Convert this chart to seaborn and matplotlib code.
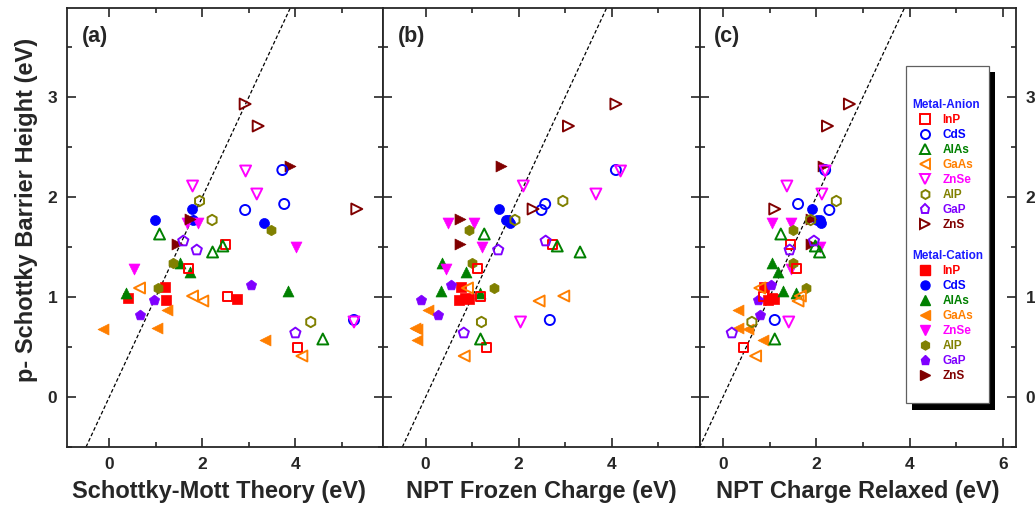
import numpy as np
import pandas as pd
import matplotlib
matplotlib.use("Agg")
import matplotlib.pyplot as plt
import seaborn as sns
from matplotlib.lines import Line2D
from matplotlib.patches import Rectangle
from matplotlib.ticker import MultipleLocator

# ---------------- data ----------------
materials = ["InP", "CdS", "AlAs", "GaAs", "ZnSe", "AlP", "GaP", "ZnS"]
colors = ["#ff0000", "#0000ff", "#008000", "#ff7f00", "#ff00ff", "#808000", "#7f00ff", "#800000"]
markers = ["s", "o", "^", "<", "v", "h", "p", ">"]

# p-Schottky barrier height (same in all panels)
y_anion = [
    [1.52, 1.28, 1.00, 0.49],
    [2.27, 1.87, 1.93, 0.77],
    [1.63, 1.45, 1.51, 0.58],
    [1.09, 1.01, 0.96, 0.41],
    [2.26, 2.11, 2.03, 0.75],
    [1.96, 1.77, 0.75],
    [1.56, 1.47, 0.64],
    [2.93, 2.71, 1.88],
]
y_cation = [
    [1.10, 0.97, 0.99, 0.98],
    [1.77, 1.88, 1.77, 1.74],
    [1.34, 1.25, 1.04, 1.06],
    [0.87, 0.68, 0.69, 0.57],
    [1.74, 1.74, 1.50, 1.28],
    [1.34, 1.09, 1.67],
    [0.97, 1.12, 0.82],
    [2.31, 1.78, 1.53],
]

# (a) Schottky-Mott theory
x_anion_a = [
    [2.50, 1.70, 2.55, 4.05],
    [3.72, 2.92, 3.76, 5.26],
    [1.08, 2.22, 2.44, 4.59],
    [0.65, 1.79, 2.01, 4.14],
    [2.93, 1.79, 3.17, 5.26],
    [1.94, 2.21, 4.33],
    [1.59, 1.88, 4.00],
    [2.92, 3.20, 5.32],
]
x_cation_a = [
    [1.20, 1.22, 0.40, 2.74],
    [0.98, 1.78, 1.81, 3.33],
    [1.52, 1.74, 0.36, 3.85],
    [1.23, -0.14, 1.02, 3.35],
    [1.66, 1.90, 4.02, 0.53],
    [1.38, 1.05, 3.47],
    [0.97, 3.05, 0.67],
    [3.89, 1.74, 1.45],
]

# (b) NPT frozen charge
x_anion_b = [
    [2.72, 1.12, 1.19, 1.30],
    [4.09, 2.49, 2.57, 2.67],
    [1.26, 3.32, 2.83, 1.18],
    [0.90, 2.97, 2.44, 0.83],
    [4.19, 2.10, 3.66, 2.04],
    [2.95, 1.92, 1.20],
    [2.58, 1.56, 0.82],
    [4.09, 3.07, 2.31],
]
x_cation_b = [
    [0.77, 0.72, 0.85, 0.93],
    [1.73, 1.58, 1.77, 1.81],
    [0.36, 0.87, 1.17, 0.33],
    [0.06, -0.18, -0.23, -0.19],
    [0.49, 1.05, 1.22, 0.44],
    [0.99, 1.47, 0.93],
    [-0.09, 0.54, 0.27],
    [1.61, 0.74, 0.74],
]

# (c) NPT charge relaxed
x_anion_c = [
    [1.45, 1.57, 0.86, 0.43],
    [2.19, 2.28, 1.61, 1.11],
    [1.24, 2.07, 1.98, 1.11],
    [0.79, 1.66, 1.61, 0.70],
    [2.19, 1.37, 2.12, 1.41],
    [2.43, 1.88, 0.62],
    [1.95, 1.43, 0.19],
    [2.71, 2.24, 1.11],
]
x_cation_c = [
    [0.89, 0.97, 1.05, 1.10],
    [2.02, 1.91, 2.08, 2.11],
    [1.05, 1.18, 1.57, 1.28],
    [0.32, 0.54, 0.32, 0.86],
    [1.06, 1.46, 2.09, 1.46],
    [1.50, 1.79, 1.50],
    [0.75, 1.04, 0.80],
    [2.14, 1.88, 1.89],
]

panel_tags = ["(a)", "(b)", "(c)"]
x_labels = ["Schottky-Mott Theory (eV)", "NPT Frozen Charge (eV)", "NPT Charge Relaxed (eV)"]
y_label = "p- Schottky Barrier Height (eV)"
group_titles = ["Metal-Anion", "Metal-Cation"]

# ---------------- build long table ----------------
rows = []
xsets = [(x_anion_a, x_cation_a), (x_anion_b, x_cation_b), (x_anion_c, x_cation_c)]
for p, (xa, xc) in enumerate(xsets):
    for i, mat in enumerate(materials):
        for xv, yv in zip(xa[i], y_anion[i]):
            rows.append(dict(panel=p, material=mat, kind="anion", x=xv, y=yv))
        for xv, yv in zip(xc[i], y_cation[i]):
            rows.append(dict(panel=p, material=mat, kind="cation", x=xv, y=yv))
df = pd.DataFrame(rows)

# ---------------- style ----------------
sns.set_style("ticks")
plt.rcParams["font.family"] = ["Liberation Sans", "DejaVu Sans"]
plt.rcParams["font.weight"] = "bold"
plt.rcParams["axes.labelweight"] = "bold"

msize = {"s": 42, "o": 52, "^": 62, "<": 62, "v": 62, "h": 56, "p": 60, ">": 62}

fig, axes = plt.subplots(1, 3, figsize=(10.35, 5.14), dpi=100, sharey=True)
fig.subplots_adjust(left=0.0647, right=0.9816, bottom=0.1304, top=0.9844, wspace=0)

xlims = [(-0.91, 5.89), (-0.91, 5.89), (-0.50, 6.28)]

for p, ax in enumerate(axes):
    sub = df[df.panel == p]
    ax.axline((0, 0), slope=1, color="black", lw=0.9, linestyle=(0, (3.0, 1.8)), zorder=1)
    for kind in ["cation", "anion"]:
        for i, mat in enumerate(materials):
            d = sub[(sub.material == mat) & (sub.kind == kind)]
            m = markers[i]
            if kind == "anion":
                sns.scatterplot(data=d, x="x", y="y", ax=ax, marker=m, s=msize[m],
                                facecolor="none", edgecolor=colors[i], linewidth=1.4,
                                legend=False, zorder=3)
            else:
                sns.scatterplot(data=d, x="x", y="y", ax=ax, marker=m, s=msize[m],
                                color=colors[i], edgecolor=colors[i], linewidth=0.5,
                                legend=False, zorder=3)
    ax.set_xlim(*xlims[p])
    ax.set_ylim(-0.5, 3.89)
    ax.xaxis.set_major_locator(MultipleLocator(2))
    ax.xaxis.set_minor_locator(MultipleLocator(1))
    ax.yaxis.set_major_locator(MultipleLocator(1))
    ax.yaxis.set_minor_locator(MultipleLocator(0.5))
    ax.tick_params(which="both", direction="in", top=True, right=True, width=1.2,
                   labelsize=12.5, pad=7)
    ax.tick_params(which="major", length=6.5)
    ax.tick_params(which="minor", length=3.5)
    for sp in ax.spines.values():
        sp.set_linewidth(1.3)
    ax.set_xlabel(x_labels[p], fontsize=17, fontweight="bold")
    ax.xaxis.set_label_coords(0.5 if p else 0.48, -0.075)
    ax.set_ylabel("")
    ax.text(0.046, 0.936, panel_tags[p], transform=ax.transAxes, ha="left", va="center",
            fontsize=15.5, fontweight="bold")

axes[0].set_ylabel(y_label, fontsize=17, fontweight="bold")
axes[0].yaxis.set_label_coords(-0.092, 0.54)
axes[2].tick_params(labelright=True)

# ---------------- legend ----------------
handles, labels, lcolors = [], [], []
header_idx = []
for g, kind in enumerate(["anion", "cation"]):
    header_idx.append(len(handles))
    handles.append(Line2D([], [], linestyle="none"))
    labels.append(group_titles[g])
    lcolors.append("#1a1aff")
    for i, mat in enumerate(materials):
        if kind == "anion":
            h = Line2D([], [], linestyle="none", marker=markers[i], markersize=6.5,
                       markerfacecolor="none", markeredgecolor=colors[i], markeredgewidth=1.4)
        else:
            h = Line2D([], [], linestyle="none", marker=markers[i], markersize=6.5,
                       markerfacecolor=colors[i], markeredgecolor=colors[i])
        handles.append(h)
        labels.append(mat)
        lcolors.append(colors[i])
    handles.append(Line2D([], [], linestyle="none"))
    labels.append(" ")
    lcolors.append("black")

axc = axes[2]
leg = axc.legend(handles, labels, loc="upper left", bbox_to_anchor=(0.652, 0.868),
                 borderaxespad=0, frameon=True, fancybox=False, framealpha=1,
                 edgecolor="#606060", prop={"size": 8.5, "weight": "bold"},
                 labelcolor=lcolors, handlelength=2.3, handletextpad=0.3,
                 labelspacing=0.26, borderpad=0.5, title=" ", title_fontsize=18)
leg.get_frame().set_linewidth(0.9)
leg.set_zorder(6)
items = leg._legend_handle_box.get_children()[0].get_children()
for idx in header_idx:
    items[idx].get_children().pop(0)

fig.canvas.draw()
bb = leg.get_window_extent(fig.canvas.get_renderer())
inv = axc.transAxes.inverted()
(sx0, sy0) = inv.transform((bb.x0 + 6.5, bb.y0 - 6.5))
(sx1, sy1) = inv.transform((bb.x1 + 6.5, bb.y1 - 6.5))
axc.add_patch(Rectangle((sx0, sy0), sx1 - sx0, sy1 - sy0, transform=axc.transAxes,
                        facecolor="black", edgecolor="none", zorder=5.5, clip_on=False))

fig.savefig("out.png", dpi=100)
